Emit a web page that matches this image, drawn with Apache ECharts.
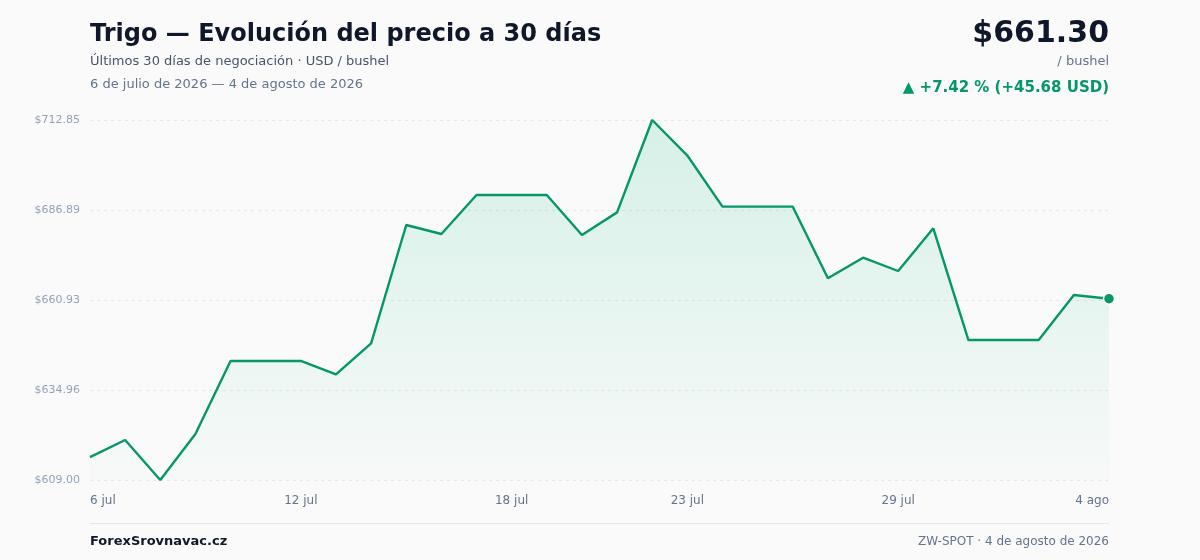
<!DOCTYPE html>
<html>
<head>
<meta charset="utf-8">
<script src="https://cdn.jsdelivr.net/npm/echarts@6/dist/echarts.min.js"></script>
<style>
  html, body { margin: 0; padding: 0; background: #fafafa; }
  #chart { width: 1200px; height: 560px; }
</style>
</head>
<body>
<div id="chart"></div>
<script>
// --- datos ---
const fechas = ['6 jul', '7 jul', '8 jul', '9 jul', '10 jul', '11 jul', '12 jul', '13 jul', '14 jul', '15 jul',
  '16 jul', '17 jul', '18 jul', '19 jul', '20 jul', '21 jul', '22 jul', '23 jul', '24 jul', '25 jul',
  '26 jul', '27 jul', '28 jul', '29 jul', '30 jul', '31 jul', '1 ago', '2 ago', '3 ago', '4 ago']

const precios = [615.62, 620.54, 609.00, 622.27, 643.33, 643.33, 643.33, 639.48, 648.43, 682.56,
  679.96, 691.21, 691.21, 691.21, 679.67, 686.20, 712.85, 702.60, 687.85, 687.85,
  687.85, 667.18, 673.13, 669.29, 681.60, 649.38, 649.38, 649.38, 662.37, 661.30]

const etiquetasX = [0, 6, 12, 17, 23, 29] // índices con etiqueta visible
const yMin = 609.00
const yMax = 712.85

const verde = '#059669'
const fuente = 'DejaVu Sans'

const chart = echarts.init(document.getElementById('chart'))
const ultimo = precios.length - 1

// título sin padding para alinear con la rejilla
function texto (txt, pos, estilo) {
  return Object.assign({ text: txt, padding: 0, textStyle: Object.assign({ fontFamily: fuente, fontWeight: 'normal' }, estilo) }, pos)
}

const option = {
  backgroundColor: '#fafafa',
  animation: false,
  textStyle: { fontFamily: fuente },
  grid: { left: 90, right: 91, top: 120, bottom: 80 },
  title: [
    texto('Trigo — Evolución del precio a 30 días', { left: 90, top: 23 }, { fontSize: 24, fontWeight: 'bold', color: '#0f172a' }),
    texto('Últimos 30 días de negociación · USD / bushel', { left: 90, top: 55 }, { fontSize: 13, color: '#475569' }),
    texto('6 de julio de 2026 — 4 de agosto de 2026', { left: 90, top: 78 }, { fontSize: 13, color: '#64748b' }),
    texto('$' + precios[ultimo].toFixed(2), { right: 91, top: 19 }, { fontSize: 30, fontWeight: 'bold', color: '#0f172a' }),
    texto('/ bushel', { right: 91, top: 55 }, { fontSize: 13, color: '#64748b' }),
    texto('▲ +7.42 % (+45.68 USD)', { right: 91, top: 81 }, { fontSize: 15, fontWeight: 'bold', color: verde }),
    texto('ForexSrovnavac.cz', { left: 90, top: 535 }, { fontSize: 13, fontWeight: 'bold', color: '#111827' }),
    texto('ZW-SPOT · 4 de agosto de 2026', { right: 91, top: 536 }, { fontSize: 12, color: '#64748b' })
  ],
  graphic: [
    { // separador del pie
      type: 'rect',
      shape: { x: 90, y: 523, width: 1019, height: 1 },
      style: { fill: '#e5e7eb' },
      silent: true
    }
  ],
  xAxis: {
    type: 'category',
    data: fechas,
    boundaryGap: false,
    axisLine: { show: false },
    axisTick: { show: false },
    splitLine: { show: false },
    axisLabel: {
      interval: function (i) { return etiquetasX.indexOf(i) !== -1 },
      alignMinLabel: 'left',
      alignMaxLabel: 'right',
      margin: 15,
      color: '#64748b',
      fontSize: 12,
      fontFamily: fuente
    }
  },
  yAxis: {
    type: 'value',
    min: yMin,
    max: yMax,
    interval: (yMax - yMin) / 4,
    axisLine: { show: false },
    axisTick: { show: false },
    axisLabel: {
      margin: 10,
      color: '#94a3b8',
      fontSize: 11,
      fontFamily: fuente,
      formatter: function (v) { return '$' + (v + 1e-7).toFixed(2) }
    },
    splitLine: {
      show: true,
      lineStyle: { type: [3, 4], color: '#e5e7eb', width: 1 }
    }
  },
  series: [
    {
      type: 'line',
      data: precios,
      smooth: false,
      symbol: 'circle',
      showSymbol: true,
      symbolSize: function (v, p) { return p.dataIndex === ultimo ? 11 : 0 },
      itemStyle: { color: verde, borderColor: '#ffffff', borderWidth: 1.5 },
      lineStyle: { color: verde, width: 2.4 },
      areaStyle: {
        origin: 'start',
        color: new echarts.graphic.LinearGradient(0, 0, 0, 1, [
          { offset: 0, color: 'rgba(16,185,129,0.22)' },
          { offset: 1, color: 'rgba(16,185,129,0.02)' }
        ])
      },
      z: 3
    }
  ]
}

chart.setOption(option)
</script>
</body>
</html>
